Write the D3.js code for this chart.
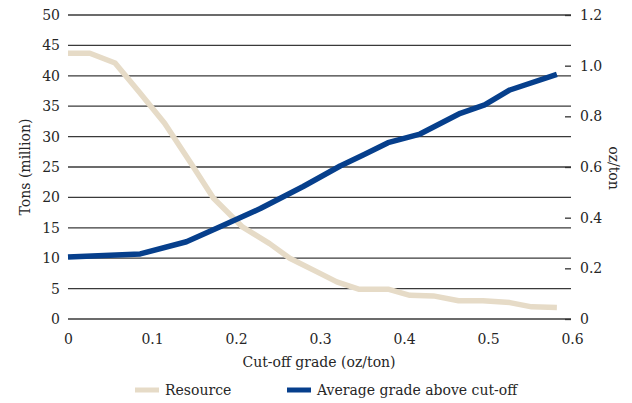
<!DOCTYPE html>
<html><head><meta charset="utf-8">
<script src="https://cdn.jsdelivr.net/npm/d3@7"></script>
<style>
body{margin:0;background:#fff;}
svg text{font-family:"DejaVu Serif",serif !important;}
</style></head>
<body><svg id="c" width="632" height="403"></svg>
<script>
const resourceX = [0,0.026,0.056,0.085,0.115,0.145,0.173,0.208,0.24,0.264,0.3,0.32,0.346,0.381,0.407,0.435,0.465,0.494,0.526,0.552,0.582];
const resourceTons = [43.7,43.7,42.1,37.3,32.2,25.9,19.9,15.1,12.4,10.0,7.5,6.1,4.9,4.9,3.9,3.8,3.0,3.0,2.7,2.0,1.9];
const gradeX = [0,0.086,0.141,0.181,0.229,0.28,0.324,0.352,0.381,0.419,0.467,0.496,0.526,0.582];
const gradeOz = [0.245,0.257,0.305,0.364,0.436,0.523,0.604,0.648,0.696,0.73,0.812,0.845,0.904,0.966];
const xTicks = [0,0.1,0.2,0.3,0.4,0.5,0.6];
const leftTicks = [0,5,10,15,20,25,30,35,40,45,50];
const rightTicks = [0,0.2,0.4,0.6,0.8,1.0,1.2];
const seriesNames = ["Resource","Average grade above cut-off"];
const colors = ["#e6dbc7","#063f8c"];

const FONT = '"DejaVu Serif", serif';
const FS = "14px";
const TC = "#262626";
const svg = d3.select("#c");
const x = d3.scaleLinear().domain([0,0.6]).range([68,572]);
const yL = d3.scaleLinear().domain([0,50]).range([319,15]);
const yR = d3.scaleLinear().domain([0,1.2]).range([319,15]);

// gridlines
svg.append("g").selectAll("line").data(leftTicks).join("line")
  .attr("x1",68).attr("x2",571).attr("y1",d=>yL(d)).attr("y2",d=>yL(d))
  .attr("stroke","#3a3a3a").attr("stroke-width",1.3);

function styleAxis(g){
  g.attr("font-family",FONT);
  g.select(".domain").remove();
  g.selectAll("text").style("font-family",FONT).style("font-size",FS).attr("fill",TC);
}

// left axis labels
const gl = svg.append("g").attr("transform","translate(68,0)")
  .call(d3.axisLeft(yL).tickValues(leftTicks).tickSize(0).tickPadding(8).tickFormat(d3.format("d")));
styleAxis(gl);

// right axis
const gr = svg.append("g").attr("transform","translate(571,0)")
  .call(d3.axisRight(yR).tickValues(rightTicks).tickSize(-6).tickPadding(9)
    .tickFormat(d=>d===0?"0":d3.format(".1f")(d)));
styleAxis(gr);
gr.selectAll("line").attr("stroke","#333").attr("stroke-width",1.3);

// x axis labels
const gx = svg.append("g").attr("transform","translate(0,330)")
  .call(d3.axisBottom(x).tickValues(xTicks).tickSize(0).tickPadding(4)
    .tickFormat(d=>d===0?"0":d3.format(".1f")(d)));
styleAxis(gx);

// lines
const resData = resourceX.map((v,i)=>[v,resourceTons[i]]);
const grdData = gradeX.map((v,i)=>[v,gradeOz[i]]);
svg.append("path").datum(resData)
  .attr("d",d3.line().x(d=>x(d[0])).y(d=>yL(d[1])))
  .attr("fill","none").attr("stroke",colors[0]).attr("stroke-width",5.5).attr("stroke-linejoin","round");
svg.append("path").datum(grdData)
  .attr("d",d3.line().x(d=>x(d[0])).y(d=>yR(d[1])))
  .attr("fill","none").attr("stroke",colors[1]).attr("stroke-width",5.5).attr("stroke-linejoin","round");

function label(sel){ return sel.style("font-family",FONT).style("font-size",FS).attr("fill",TC); }
// axis titles
label(svg.append("text").attr("x",319).attr("y",367).attr("text-anchor","middle")).text("Cut-off grade (oz/ton)");
label(svg.append("text").attr("transform","translate(30,167) rotate(-90)").attr("text-anchor","middle")).text("Tons (million)");
label(svg.append("text").attr("transform","translate(609,168) rotate(90)").attr("text-anchor","middle")).text("oz/ton");

// legend
const legX = [135,287];
seriesNames.forEach((n,i)=>{
  svg.append("line").attr("x1",legX[i]).attr("x2",legX[i]+24).attr("y1",390).attr("y2",390)
    .attr("stroke",colors[i]).attr("stroke-width",5);
  label(svg.append("text").attr("x",legX[i]+30).attr("y",395)).text(n);
});
</script></body></html>
